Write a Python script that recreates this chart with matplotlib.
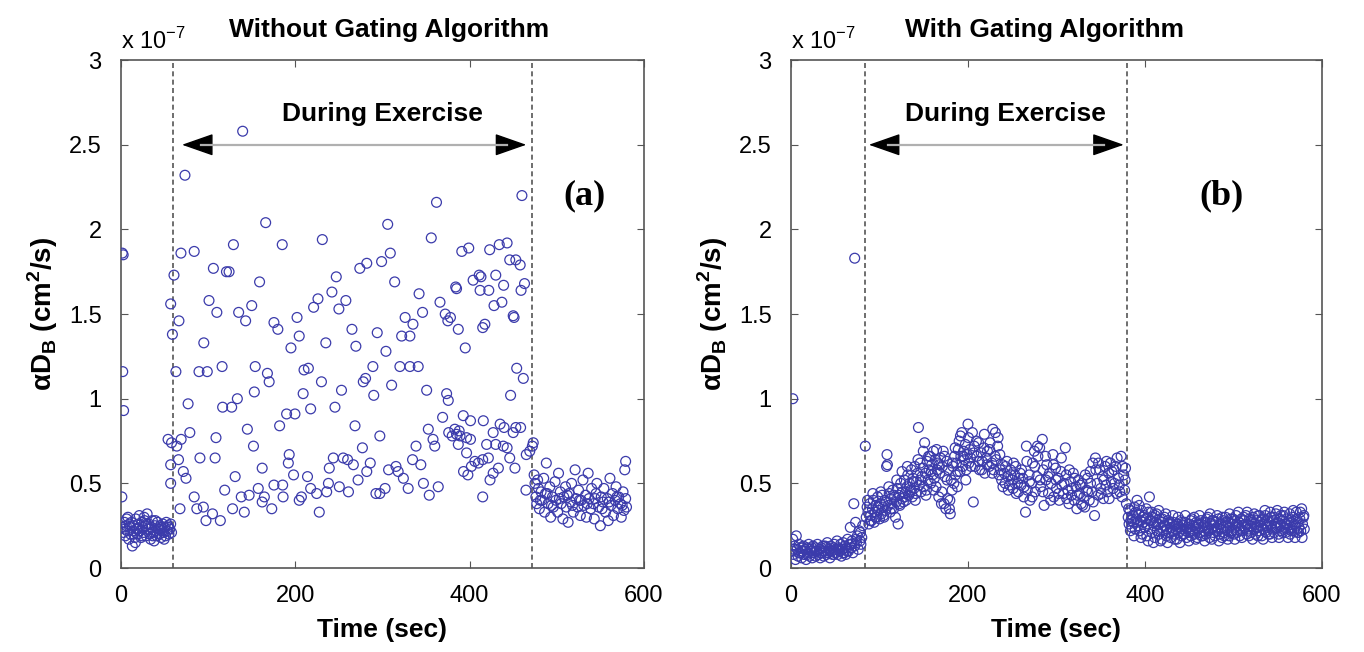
import matplotlib.pyplot as plt

plt.rcParams['font.family'] = ['Liberation Sans', 'DejaVu Sans']
plt.rcParams['mathtext.fontset'] = 'custom'
plt.rcParams['mathtext.rm'] = 'Liberation Sans'
plt.rcParams['mathtext.bf'] = 'Liberation Sans:bold'

# alpha*D_B values in units of 1e-7 cm^2/s: (time [s], value)

# (a) without gating
a_start = [(1.5, 1.86), (2.5, 1.85), (2, 1.16), (3, 0.93), (1, 0.42)]
a_pre = [(2, 0.24), (3, 0.21), (4, 0.27), (5, 0.19), (6, 0.25), (7, 0.22), (8, 0.30), (9, 0.17),
         (10, 0.24), (11, 0.20), (12, 0.27), (13, 0.13), (14, 0.22), (15, 0.25), (16, 0.18), (17, 0.29),
         (18, 0.23), (19, 0.20), (20, 0.26), (21, 0.31), (22, 0.22), (23, 0.18), (24, 0.27), (25, 0.24),
         (26, 0.21), (27, 0.28), (28, 0.25), (29, 0.19), (30, 0.32), (31, 0.23), (32, 0.26), (33, 0.20),
         (34, 0.17), (35, 0.24), (36, 0.28), (37, 0.21), (38, 0.16), (39, 0.25), (40, 0.22), (41, 0.19),
         (42, 0.27), (43, 0.23), (44, 0.20), (45, 0.25), (46, 0.18), (47, 0.22), (48, 0.26), (49, 0.21),
         (50, 0.24), (51, 0.19), (52, 0.27), (53, 0.22), (54, 0.25), (55, 0.20), (56, 0.23), (57, 0.26),
         (58, 0.21), (4.5, 0.23), (9.5, 0.26), (14.5, 0.20), (19.5, 0.23), (24.5, 0.19), (29.5, 0.26),
         (34.5, 0.21), (39.5, 0.28), (44.5, 0.23), (49.5, 0.17), (54.5, 0.24), (6.5, 0.29), (16.5, 0.15),
         (26.5, 0.30), (36.5, 0.19), (46.5, 0.24)]
a_ex_high = [(139.6, 2.58), (73.4, 2.32), (362, 2.16), (460, 2.20), (166, 2.04), (306, 2.03),
             (68.8, 1.86), (84, 1.87), (129, 1.91), (185, 1.91), (231, 1.94), (356, 1.95), (309, 1.86),
             (299, 1.81), (282, 1.80), (274, 1.77), (391, 1.87), (399, 1.89), (423, 1.88), (434, 1.91),
             (443, 1.92), (446, 1.82), (453, 1.82), (458, 1.79), (60.8, 1.73), (106, 1.77), (121, 1.75),
             (124, 1.75), (159, 1.69), (247, 1.72), (242, 1.63), (314, 1.69), (342, 1.62), (384, 1.66),
             (385, 1.65), (404, 1.70), (411, 1.73), (413, 1.72), (412, 1.64), (422, 1.64), (430, 1.73),
             (439, 1.67), (459, 1.64), (463, 1.68), (57, 1.56), (101, 1.58), (110, 1.51), (135, 1.51),
             (143, 1.46), (150, 1.55), (221, 1.54), (226, 1.59), (250, 1.53), (258, 1.58), (366, 1.57),
             (372, 1.50), (375, 1.46), (378, 1.48), (428, 1.55), (437, 1.57), (450, 1.49), (451, 1.48),
             (346, 1.51), (326, 1.48), (335, 1.44), (66.5, 1.46), (59, 1.38), (95, 1.33), (175.5, 1.45),
             (180, 1.41), (202, 1.48), (204.5, 1.37), (195, 1.30), (235, 1.33), (265, 1.41), (269.5, 1.31),
             (294, 1.39), (304, 1.28), (322, 1.37), (331.5, 1.37), (387, 1.41), (395, 1.30), (415, 1.42),
             (417.5, 1.44)]
a_ex_low = [(63, 1.16), (89.5, 1.16), (99, 1.16), (116, 1.19), (154, 1.19), (168, 1.15), (170, 1.10),
            (210, 1.17), (215, 1.18), (289, 1.19), (320, 1.19), (331.5, 1.19), (341, 1.19), (454, 1.18),
            (461.6, 1.12), (57, 0.61), (54, 0.76), (58, 0.74), (64, 0.72), (69, 0.76), (57, 0.50),
            (66, 0.64), (71.5, 0.57), (74.6, 0.53), (77, 0.97), (79, 0.80), (67.7, 0.35), (84, 0.42),
            (87, 0.35), (90.6, 0.65), (97.5, 0.28), (94.5, 0.36), (105, 0.32), (109, 0.77), (108, 0.65),
            (114, 0.28), (116.6, 0.95), (127, 0.95), (133.5, 1.0), (119, 0.46), (128, 0.35), (131, 0.54),
            (138, 0.42), (141.5, 0.33), (145, 0.82), (147, 0.43), (152, 0.72), (153, 1.04), (157.5, 0.47),
            (162, 0.59), (162, 0.39), (164.5, 0.42), (173, 0.35), (175.5, 0.49), (182, 0.84), (185.5, 0.49),
            (186, 0.42), (190, 0.91), (192, 0.62), (193, 0.67), (199.6, 0.91), (198, 0.55), (204.5, 0.40),
            (207, 0.42), (209, 1.03), (214, 0.54), (217.6, 0.94), (217.6, 0.47), (224.5, 0.44),
            (227.5, 0.33), (230, 1.10), (236, 0.45), (238, 0.50), (239, 0.59), (243.6, 0.65), (245.5, 0.95),
            (250.5, 0.48), (253, 1.05), (255, 0.65), (260, 0.64), (261, 0.45), (266.6, 0.61), (268.5, 0.84),
            (272, 0.52), (278, 1.10), (280.6, 1.12), (277, 0.71), (282, 0.57), (286, 0.62), (290, 1.02),
            (292.5, 0.44), (297, 0.44), (303, 0.47), (297, 0.78), (307, 0.58), (310.5, 1.08), (315.5, 0.60),
            (318, 0.57), (324, 0.53), (329.5, 0.47), (334.5, 0.64), (338.5, 0.72), (344, 0.61), (347, 0.50),
            (350.7, 1.05), (352.6, 0.82), (353.7, 0.43), (358, 0.76), (360, 0.72), (364, 0.48), (369, 0.89),
            (373.6, 1.03), (375.5, 0.99), (376, 0.80), (380, 0.78), (383, 0.82), (385, 0.79), (388, 0.81),
            (389, 0.78), (387, 0.73), (392.7, 0.90), (396.5, 0.77), (401, 0.87), (396.5, 0.68), (393, 0.57),
            (398, 0.55), (402, 0.60), (406, 0.63), (410, 0.62), (415, 0.64), (401, 0.76), (415, 0.42),
            (415.7, 0.87), (419.5, 0.73), (421.5, 0.65), (423.4, 0.52), (427, 0.56), (427, 0.80), (430, 0.73),
            (433, 0.59), (435, 0.85), (439.5, 0.83), (438.6, 0.72), (443, 0.71), (446, 0.65), (447, 1.02),
            (450, 0.80), (453, 0.83), (458.5, 0.83), (452, 0.59), (464.6, 0.46), (465, 0.67), (469, 0.69),
            (472, 0.72)]
a_post = [(473, 0.74), (474, 0.55), (475, 0.50), (476, 0.42), (477, 0.38), (478, 0.52), (479, 0.47),
          (480, 0.35), (482, 0.45), (483, 0.40), (485, 0.53), (486, 0.33), (488, 0.62), (489, 0.44),
          (490, 0.38), (492, 0.48), (493, 0.30), (495, 0.42), (496, 0.36), (498, 0.51), (499, 0.40),
          (501, 0.33), (502, 0.56), (504, 0.45), (505, 0.38), (507, 0.29), (508, 0.42), (510, 0.48),
          (511, 0.36), (513, 0.27), (514, 0.44), (516, 0.39), (517, 0.50), (519, 0.33), (521, 0.58),
          (522, 0.41), (524, 0.36), (525, 0.46), (527, 0.31), (528, 0.40), (530, 0.52), (531, 0.37),
          (533, 0.43), (534, 0.30), (536, 0.56), (537, 0.41), (539, 0.35), (540, 0.47), (542, 0.38),
          (543, 0.29), (545, 0.44), (546, 0.50), (548, 0.36), (550, 0.25), (551, 0.42), (553, 0.39),
          (554, 0.47), (556, 0.33), (558, 0.41), (559, 0.28), (561, 0.53), (562, 0.37), (564, 0.44),
          (565, 0.31), (567, 0.40), (568, 0.48), (570, 0.35), (571, 0.42), (573, 0.38), (574, 0.30),
          (576, 0.45), (577, 0.34), (578, 0.58), (579, 0.63), (579, 0.41), (580, 0.36), (481, 0.40),
          (487, 0.44), (494, 0.37), (503, 0.41), (512, 0.43), (518, 0.37), (526, 0.40), (535, 0.38),
          (544, 0.41), (552, 0.35), (560, 0.39), (569, 0.42), (575, 0.37)]

# (b) with gating
b_start = [(2, 1.0), (72, 1.83)]
b_pre = [(1, 0.10), (2, 0.17), (3, 0.08), (4, 0.13), (5, 0.05), (6, 0.19), (7, 0.11), (8, 0.07),
         (9, 0.14), (10, 0.09), (11, 0.12), (12, 0.06), (13, 0.10), (14, 0.13), (15, 0.08), (16, 0.11),
         (17, 0.05), (18, 0.12), (19, 0.09), (20, 0.14), (21, 0.07), (22, 0.11), (23, 0.10), (24, 0.06),
         (25, 0.13), (26, 0.09), (27, 0.12), (28, 0.07), (29, 0.10), (30, 0.14), (31, 0.08), (32, 0.11),
         (33, 0.06), (34, 0.12), (35, 0.09), (36, 0.13), (37, 0.07), (38, 0.10), (39, 0.12), (40, 0.08),
         (41, 0.15), (42, 0.09), (43, 0.11), (44, 0.06), (45, 0.13), (46, 0.10), (47, 0.08), (48, 0.12),
         (49, 0.14), (50, 0.09), (51, 0.11), (52, 0.16), (53, 0.08), (54, 0.12), (55, 0.10), (56, 0.14),
         (57, 0.07), (58, 0.11), (59, 0.15), (60, 0.09), (61, 0.13), (62, 0.08), (63, 0.12), (64, 0.17),
         (65, 0.10), (66, 0.14), (67, 0.24), (68, 0.12), (69, 0.16), (70, 0.09), (71, 0.38), (72, 0.13),
         (73, 0.27), (74, 0.15), (75, 0.19), (76, 0.11), (77, 0.22), (78, 0.16), (79, 0.14), (80, 0.18),
         (81, 0.25), (3.5, 0.11), (8.5, 0.09), (13.5, 0.12), (18.5, 0.08), (23.5, 0.12), (28.5, 0.10),
         (33.5, 0.09), (38.5, 0.13), (43.5, 0.10), (48.5, 0.08), (53.5, 0.11), (58.5, 0.09), (63.5, 0.10),
         (68.5, 0.14), (73.5, 0.17), (78.5, 0.21)]
b_ex = [(84, 0.72), (85, 0.30), (86, 0.36), (87, 0.33), (88, 0.26), (89, 0.38), (90, 0.31), (91, 0.28),
        (92, 0.35), (93, 0.40), (94, 0.27), (95, 0.33), (96, 0.37), (97, 0.30), (98, 0.42), (99, 0.34),
        (100, 0.29), (101, 0.38), (102, 0.32), (103, 0.43), (104, 0.36), (105, 0.30), (106, 0.40),
        (107, 0.34), (108, 0.60), (108.5, 0.67), (109, 0.61), (110, 0.37), (111, 0.44), (112, 0.33),
        (113, 0.41), (114, 0.38), (115, 0.46), (116, 0.35), (117, 0.42), (118, 0.30), (119, 0.39),
        (120, 0.47), (121, 0.26), (122, 0.43), (123, 0.37), (124, 0.50), (125, 0.41), (126, 0.45),
        (127, 0.39), (128, 0.52), (129, 0.44), (130, 0.40), (131, 0.48), (132, 0.55), (133, 0.43),
        (134, 0.50), (135, 0.46), (136, 0.58), (137, 0.42), (138, 0.53), (139, 0.47), (140, 0.60),
        (141, 0.44), (142, 0.51), (143, 0.56), (144, 0.83), (145, 0.49), (146, 0.62), (147, 0.45),
        (148, 0.54), (149, 0.59), (150, 0.48), (151, 0.74), (152, 0.56), (153, 0.46), (154, 0.63),
        (155, 0.52), (156, 0.58), (157, 0.66), (158, 0.50), (159, 0.61), (160, 0.55), (161, 0.69),
        (162, 0.53), (163, 0.64), (164, 0.48), (165, 0.58), (166, 0.62), (167, 0.42), (168, 0.56),
        (169, 0.65), (170, 0.38), (171, 0.60), (172, 0.69), (173, 0.38), (174, 0.54), (175, 0.35),
        (176, 0.63), (177, 0.41), (178, 0.58), (179, 0.35), (180, 0.32), (181, 0.52), (182, 0.46),
        (183, 0.60), (184, 0.50), (185, 0.66), (186, 0.55), (187, 0.62), (188, 0.48), (189, 0.70),
        (190, 0.75), (191, 0.57), (192, 0.66), (193, 0.80), (194, 0.60), (195, 0.69), (196, 0.64),
        (197, 0.73), (198, 0.58), (199, 0.67), (200, 0.85), (201, 0.62), (202, 0.70), (203, 0.65),
        (205, 0.80), (206, 0.39), (207, 0.72), (208, 0.60), (210, 0.66), (212, 0.74), (213, 0.58),
        (215, 0.68), (216, 0.63), (218, 0.71), (219, 0.56), (221, 0.65), (222, 0.69), (224, 0.60),
        (225, 0.74), (227, 0.62), (228, 0.82), (229, 0.58), (231, 0.80), (232, 0.64), (234, 0.77),
        (235, 0.55), (236, 0.67), (238, 0.52), (239, 0.61), (241, 0.56), (242, 0.50), (244, 0.63),
        (245, 0.54), (247, 0.49), (248, 0.58), (250, 0.52), (251, 0.47), (253, 0.55), (254, 0.60),
        (256, 0.50), (257, 0.45), (259, 0.56), (260, 0.49), (262, 0.53), (263, 0.42), (265, 0.33),
        (266, 0.72), (267, 0.46), (269, 0.55), (270, 0.40), (272, 0.50), (273, 0.62), (275, 0.69),
        (276, 0.45), (278, 0.54), (279, 0.66), (281, 0.71), (282, 0.48), (284, 0.76), (285, 0.58),
        (286, 0.37), (288, 0.52), (289, 0.61), (291, 0.44), (292, 0.56), (294, 0.50), (296, 0.67),
        (297, 0.42), (299, 0.59), (300, 0.47), (302, 0.53), (303, 0.40), (305, 0.57), (306, 0.49),
        (308, 0.44), (310, 0.71), (311, 0.55), (313, 0.46), (314, 0.38), (316, 0.51), (317, 0.43),
        (319, 0.56), (320, 0.40), (322, 0.48), (323, 0.35), (325, 0.52), (326, 0.44), (328, 0.38),
        (329, 0.50), (331, 0.42), (332, 0.36), (334, 0.46), (335, 0.53), (337, 0.40), (338, 0.57),
        (340, 0.45), (341, 0.62), (343, 0.31), (344, 0.65), (346, 0.50), (347, 0.43), (349, 0.58),
        (350, 0.47), (352, 0.54), (353, 0.41), (355, 0.60), (356, 0.49), (358, 0.45), (359, 0.56),
        (361, 0.62), (362, 0.51), (364, 0.47), (365, 0.58), (367, 0.60), (368, 0.44), (370, 0.53),
        (371, 0.49), (373, 0.66), (374, 0.42), (376, 0.55), (377, 0.46), (378, 0.59), (379, 0.38)]
b_ex_extra = [(86.5, 0.40), (89.5, 0.28), (92.5, 0.44), (95.5, 0.30), (98.5, 0.36), (101.5, 0.45),
              (104.5, 0.31), (107.5, 0.39), (110.5, 0.48), (113.5, 0.35), (116.5, 0.43), (119.5, 0.52),
              (122.5, 0.38), (125.5, 0.57), (128.5, 0.42), (131.5, 0.60), (134.5, 0.45), (137.5, 0.51),
              (140.5, 0.40), (143.5, 0.64), (146.5, 0.52), (149.5, 0.69), (152.5, 0.43), (155.5, 0.66),
              (158.5, 0.57), (161.5, 0.46), (164.5, 0.70), (167.5, 0.61), (170.5, 0.45), (173.5, 0.66),
              (176.5, 0.52), (179.5, 0.40), (182.5, 0.62), (185.5, 0.71), (188.5, 0.57), (191.5, 0.78),
              (194.5, 0.66), (197.5, 0.52), (200.5, 0.77), (203.5, 0.60), (206.5, 0.68), (209.5, 0.75),
              (212.5, 0.63), (215.5, 0.58), (218.5, 0.79), (221.5, 0.61), (224.5, 0.70), (227.5, 0.56),
              (230.5, 0.66), (233.5, 0.72), (236.5, 0.58), (239.5, 0.48), (242.5, 0.60), (245.5, 0.46),
              (248.5, 0.55), (251.5, 0.62), (254.5, 0.44), (257.5, 0.53), (260.5, 0.58), (263.5, 0.48),
              (266.5, 0.63), (269.5, 0.51), (272.5, 0.42), (275.5, 0.60), (278.5, 0.72), (281.5, 0.52),
              (284.5, 0.45), (287.5, 0.66), (290.5, 0.54), (293.5, 0.40), (296.5, 0.61), (299.5, 0.52),
              (302.5, 0.44), (305.5, 0.65), (308.5, 0.50), (311.5, 0.41), (314.5, 0.58), (317.5, 0.47),
              (320.5, 0.53), (323.5, 0.43), (326.5, 0.49), (329.5, 0.37), (332.5, 0.55), (335.5, 0.45),
              (338.5, 0.50), (341.5, 0.39), (344.5, 0.58), (347.5, 0.62), (350.5, 0.44), (353.5, 0.52),
              (356.5, 0.63), (359.5, 0.41), (362.5, 0.57), (365.5, 0.50), (368.5, 0.65), (371.5, 0.45),
              (374.5, 0.60), (377.5, 0.52)]
b_post = [(381, 0.30), (382, 0.26), (383, 0.34), (384, 0.28), (385, 0.24), (386, 0.31), (387, 0.27),
          (388, 0.36), (389, 0.23), (390, 0.29), (391, 0.40), (392, 0.25), (393, 0.32), (394, 0.22),
          (395, 0.28), (396, 0.34), (397, 0.20), (398, 0.27), (399, 0.31), (400, 0.24), (401, 0.29),
          (402, 0.19), (403, 0.26), (404, 0.33), (405, 0.42), (406, 0.23), (407, 0.28), (408, 0.21),
          (409, 0.30), (410, 0.25), (411, 0.18), (412, 0.27), (413, 0.32), (414, 0.22), (415, 0.26),
          (416, 0.20), (417, 0.29), (418, 0.24), (419, 0.17), (420, 0.27), (421, 0.22), (422, 0.30),
          (423, 0.25), (424, 0.19), (425, 0.23), (426, 0.28), (427, 0.21), (428, 0.26), (429, 0.18),
          (430, 0.24), (431, 0.22), (432, 0.27), (433, 0.20), (434, 0.25), (435, 0.23), (436, 0.17),
          (437, 0.26), (438, 0.21), (439, 0.24), (440, 0.28), (441, 0.19), (442, 0.23), (443, 0.25),
          (444, 0.20), (445, 0.27), (446, 0.22), (447, 0.18), (448, 0.24), (449, 0.21), (450, 0.26),
          (451, 0.23), (452, 0.19), (453, 0.29), (454, 0.22), (455, 0.25), (456, 0.20), (457, 0.24),
          (458, 0.27), (459, 0.18), (460, 0.23), (461, 0.26), (462, 0.21), (463, 0.28), (464, 0.24),
          (465, 0.19), (466, 0.25), (467, 0.22), (468, 0.27), (469, 0.20), (470, 0.24), (471, 0.30),
          (472, 0.22), (473, 0.18), (474, 0.26), (475, 0.23), (476, 0.28), (477, 0.21), (478, 0.25),
          (479, 0.19), (480, 0.27), (481, 0.24), (482, 0.22), (483, 0.29), (484, 0.20), (485, 0.26),
          (486, 0.23), (487, 0.18), (488, 0.28), (489, 0.24), (490, 0.21), (491, 0.30), (492, 0.25),
          (493, 0.22), (494, 0.27), (495, 0.19), (496, 0.24), (497, 0.29), (498, 0.22), (499, 0.26),
          (500, 0.20), (501, 0.28), (502, 0.24), (503, 0.31), (504, 0.21), (505, 0.25), (506, 0.27),
          (507, 0.19), (508, 0.23), (509, 0.29), (510, 0.25), (511, 0.22), (512, 0.28), (513, 0.24),
          (514, 0.31), (515, 0.20), (516, 0.26), (517, 0.23), (518, 0.29), (519, 0.25), (520, 0.21),
          (521, 0.27), (522, 0.30), (523, 0.23), (524, 0.26), (525, 0.20), (526, 0.28), (527, 0.24),
          (528, 0.31), (529, 0.22), (530, 0.27), (531, 0.25), (532, 0.19), (533, 0.29), (534, 0.23),
          (535, 0.26), (536, 0.31), (537, 0.21), (538, 0.28), (539, 0.24), (540, 0.27), (541, 0.20),
          (542, 0.30), (543, 0.25), (544, 0.23), (545, 0.28), (546, 0.21), (547, 0.26), (548, 0.32),
          (549, 0.24), (550, 0.27), (551, 0.20), (552, 0.29), (553, 0.25), (554, 0.22), (555, 0.28),
          (556, 0.31), (557, 0.24), (558, 0.26), (559, 0.21), (560, 0.29), (561, 0.25), (562, 0.23),
          (563, 0.28), (564, 0.20), (565, 0.27), (566, 0.24), (567, 0.30), (568, 0.22), (569, 0.26),
          (570, 0.25), (571, 0.33), (572, 0.21), (573, 0.27), (574, 0.24), (575, 0.29), (576, 0.22),
          (577, 0.35), (578, 0.26), (579, 0.30), (580, 0.23)]
b_post_extra = [(381.5, 0.35), (383.5, 0.22), (385.5, 0.29), (387.5, 0.19), (389.5, 0.33), (391.5, 0.27),
                (393.5, 0.37), (395.5, 0.18), (397.5, 0.30), (399.5, 0.24), (401.5, 0.35), (403.5, 0.16),
                (405.5, 0.28), (407.5, 0.33), (409.5, 0.15), (411.5, 0.31), (413.5, 0.22), (415.5, 0.34),
                (417.5, 0.16), (419.5, 0.29), (421.5, 0.25), (423.5, 0.32), (425.5, 0.15), (427.5, 0.27),
                (429.5, 0.21), (431.5, 0.31), (433.5, 0.17), (435.5, 0.26), (437.5, 0.30), (439.5, 0.15),
                (441.5, 0.27), (443.5, 0.20), (445.5, 0.31), (447.5, 0.23), (449.5, 0.16), (451.5, 0.28),
                (453.5, 0.21), (455.5, 0.30), (457.5, 0.17), (459.5, 0.26), (461.5, 0.31), (463.5, 0.19),
                (465.5, 0.27), (467.5, 0.16), (469.5, 0.29), (471.5, 0.22), (473.5, 0.32), (475.5, 0.17),
                (477.5, 0.28), (479.5, 0.23), (481.5, 0.31), (483.5, 0.16), (485.5, 0.26), (487.5, 0.30),
                (489.5, 0.19), (491.5, 0.27), (493.5, 0.17), (495.5, 0.32), (497.5, 0.21), (499.5, 0.29),
                (501.5, 0.17), (503.5, 0.26), (505.5, 0.33), (507.5, 0.22), (509.5, 0.18), (511.5, 0.30),
                (513.5, 0.26), (515.5, 0.33), (517.5, 0.19), (519.5, 0.28), (521.5, 0.17), (523.5, 0.32),
                (525.5, 0.24), (527.5, 0.19), (529.5, 0.31), (531.5, 0.28), (533.5, 0.17), (535.5, 0.34),
                (537.5, 0.25), (539.5, 0.20), (541.5, 0.33), (543.5, 0.18), (545.5, 0.30), (547.5, 0.24),
                (549.5, 0.34), (551.5, 0.18), (553.5, 0.31), (555.5, 0.21), (557.5, 0.33), (559.5, 0.26),
                (561.5, 0.18), (563.5, 0.32), (565.5, 0.22), (567.5, 0.34), (569.5, 0.18), (571.5, 0.29),
                (573.5, 0.21), (575.5, 0.33), (577.5, 0.18), (579.5, 0.31)]

a_points = a_start + a_pre + a_ex_high + a_ex_low + a_post
b_points = b_start + b_pre + b_ex + b_ex_extra + b_post + b_post_extra
a_bounds = [60, 472]   # exercise start / end (sec)
b_bounds = [84, 380]
titles = ['Without Gating Algorithm', 'With Gating Algorithm']
panel_tags = ['(a)', '(b)']

blue = '#3b3bab'

fig = plt.figure(figsize=(13.64, 6.52), dpi=100)
ax_a = fig.add_axes([0.0887, 0.1288, 0.3834, 0.7790])
ax_b = fig.add_axes([0.5799, 0.1288, 0.3893, 0.7790])

# axes, points, bounds, title, tag, title x (axes frac), label x / tag x, arrow ends
panels = [(ax_a, a_points, a_bounds, titles[0], panel_tags[0], 0.206, (300, 532), (70, 465)),
          (ax_b, b_points, b_bounds, titles[1], panel_tags[1], 0.215, (242, 487), (88, 376))]

for ax, pts, bounds, title, tag, tx, (lab_x, tag_x), (arr0, arr1) in panels:
    xs = [p[0] for p in pts]
    ys = [p[1] for p in pts]
    ax.scatter(xs, ys, s=50, facecolors='none', edgecolors=blue, linewidths=0.9, zorder=3)

    for b in bounds:
        ax.axvline(b, color='#555555', lw=1.2, ls=(0, (3, 2)), zorder=2)

    # double arrow: black heads, grey shaft
    ax.annotate('', xy=(arr1, 2.5), xytext=(arr0, 2.5),
                arrowprops=dict(arrowstyle='<|-|>,head_length=1.0,head_width=0.35',
                                color='black', lw=1.0, shrinkA=0, shrinkB=0, mutation_scale=20))
    ax.plot([arr0 + 22, arr1 - 22], [2.5, 2.5], color='#b0b0b0', lw=1.6, zorder=4)
    ax.text(lab_x, 2.68, 'During Exercise', fontsize=19, fontweight='bold', ha='center', va='center')

    ax.text(tag_x, 2.2, tag, fontsize=26, fontweight='bold', family='Liberation Serif',
            ha='center', va='center')

    ax.set_xlim(0, 600)
    ax.set_ylim(0, 3)
    ax.set_xticks([0, 200, 400, 600])
    ax.set_yticks([0, 0.5, 1, 1.5, 2, 2.5, 3])
    ax.set_yticklabels(['0', '0.5', '1', '1.5', '2', '2.5', '3'])
    ax.tick_params(direction='in', length=5, top=True, right=True, labelsize=17,
                   color='#555555')
    ax.tick_params(axis='x', pad=12)
    ax.tick_params(axis='y', pad=14)
    for sp in ax.spines.values():
        sp.set_color('#555555')
        sp.set_linewidth(1.2)

    ax.set_xlabel('Time (sec)', fontsize=19, fontweight='bold', labelpad=8)
    ax.set_ylabel('α' + r'D$_\mathbf{B}$ (cm$^\mathbf{2}$/s)', fontsize=20, fontweight='bold',
                  labelpad=6)
    ax.text(0.0, 1.012, r'x 10$^{-7}$', transform=ax.transAxes, fontsize=17, ha='left', va='bottom')
    ax.text(tx, 1.035, title, transform=ax.transAxes, fontsize=19, fontweight='bold',
            ha='left', va='bottom')

fig.savefig('out.png', dpi=100)
